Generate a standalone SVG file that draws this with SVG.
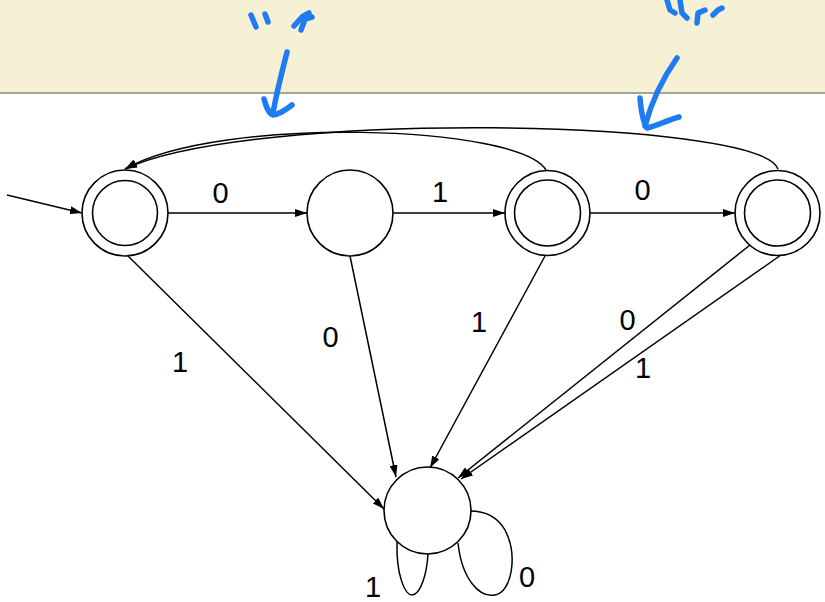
<svg xmlns="http://www.w3.org/2000/svg" width="825" height="602" viewBox="0 0 825 602">
  <defs>
    <marker id="arr" viewBox="0 0 12 8" refX="12" refY="4" markerWidth="12" markerHeight="8" markerUnits="userSpaceOnUse" orient="auto">
      <path d="M0,0 L12,4 L0,8 Z" fill="#000"/>
    </marker>
    <style>
      .st { fill: #fff; stroke: #000; stroke-width: 1.6; }
      .in { fill: none; stroke: #000; stroke-width: 1.6; }
      .ed { fill: none; stroke: #000; stroke-width: 1.5; }
      .ar { marker-end: url(#arr); }
      .ink { fill: none; stroke: #1f7bf2; stroke-width: 5.5; stroke-linecap: round; stroke-linejoin: round; }
    </style>
  </defs>

  <!-- page header band -->
  <rect x="0" y="0" width="825" height="92" fill="#f6f0d4"/>
  <rect x="0" y="92" width="825" height="2" fill="#a3a595"/>
  <rect x="0" y="94" width="825" height="508" fill="#fff"/>

  <!-- transitions -->
  <g id="edges">
    <path class="ed ar" d="M7,195 L82,213"/>
    <path class="ed ar" d="M168,213 L307,213"/>
    <path class="ed ar" d="M393,213 L505,213"/>
    <path class="ed ar" d="M590,213 L735,213"/>
    <path class="ed ar" d="M546,170 C520,125 220,115 125,169"/>
    <path class="ed ar" d="M778,169 C760,118 250,110 125,169"/>
    <path class="ed ar" d="M127,255 L384,509"/>
    <path class="ed ar" d="M350,256 L396,477"/>
    <path class="ed ar" d="M545,256 L430,468"/>
    <path class="ed ar" d="M750,245 L458,478"/>
    <path class="ed ar" d="M781,255 L461,479"/>
    <path class="ed" d="M397,542 C396,575 405,595 412,595 C420,595 427,575 428,553"/>
    <path class="ed" d="M458,543 C462,580 480,598 495,595 C512,592 518,555 505,530 C497,516 485,511 470,511"/>
  </g>

  <!-- states -->
  <g id="q0">
    <circle class="st" cx="125" cy="213" r="43"/>
    <circle class="in" cx="125" cy="213" r="32.5"/>
  </g>
  <g id="q1">
    <circle class="st" cx="350" cy="213" r="43"/>
  </g>
  <g id="q2">
    <circle class="st" cx="547.5" cy="213" r="42.5"/>
    <circle class="in" cx="547.5" cy="213" r="33"/>
  </g>
  <g id="q3">
    <circle class="st" cx="777.5" cy="213" r="42.5"/>
    <circle class="in" cx="777.5" cy="213" r="33"/>
  </g>
  <g id="trap">
    <circle class="st" cx="427.5" cy="510.5" r="43.5"/>
  </g>

  <!-- transition labels -->
  <g id="labels" font-family="Liberation Sans, Arial, sans-serif" font-size="29" fill="#000" text-anchor="middle">
    <text x="220.5" y="203">0</text>
    <text x="440" y="202">1</text>
    <text x="642.5" y="200">0</text>
    <text x="180" y="372">1</text>
    <text x="330.5" y="347">0</text>
    <text x="479" y="332">1</text>
    <text x="627.5" y="330">0</text>
    <text x="643" y="378">1</text>
    <text x="373" y="597">1</text>
    <text x="527" y="587">0</text>
  </g>

  <!-- pen annotations -->
  <g id="ink">
    <path class="ink" d="M251,15 L256,27"/>
    <path class="ink" d="M265,14 L268,22"/>
    <path class="ink" d="M294,26 L302,17 L309,13"/>
    <path class="ink" d="M301,30 L305,19 L312,17"/>
    <path class="ink" d="M287,52 C282,72 276,95 273,113"/>
    <path class="ink" d="M264,99 C266,106 268,113 273,115 C280,114 287,109 292,105"/>
    <path class="ink" d="M667,0 L670,10 L675,13"/>
    <path class="ink" d="M680,0 L682,13 L687,18"/>
    <path class="ink" d="M697,23 L698,13 L705,10"/>
    <path class="ink" d="M713,15 L718,10 L722,8"/>
    <path class="ink" d="M677,58 C665,75 652,100 645,126"/>
    <path class="ink" d="M640,98 C641,110 643,122 647,128 C656,126 668,120 679,117"/>
  </g>
</svg>
